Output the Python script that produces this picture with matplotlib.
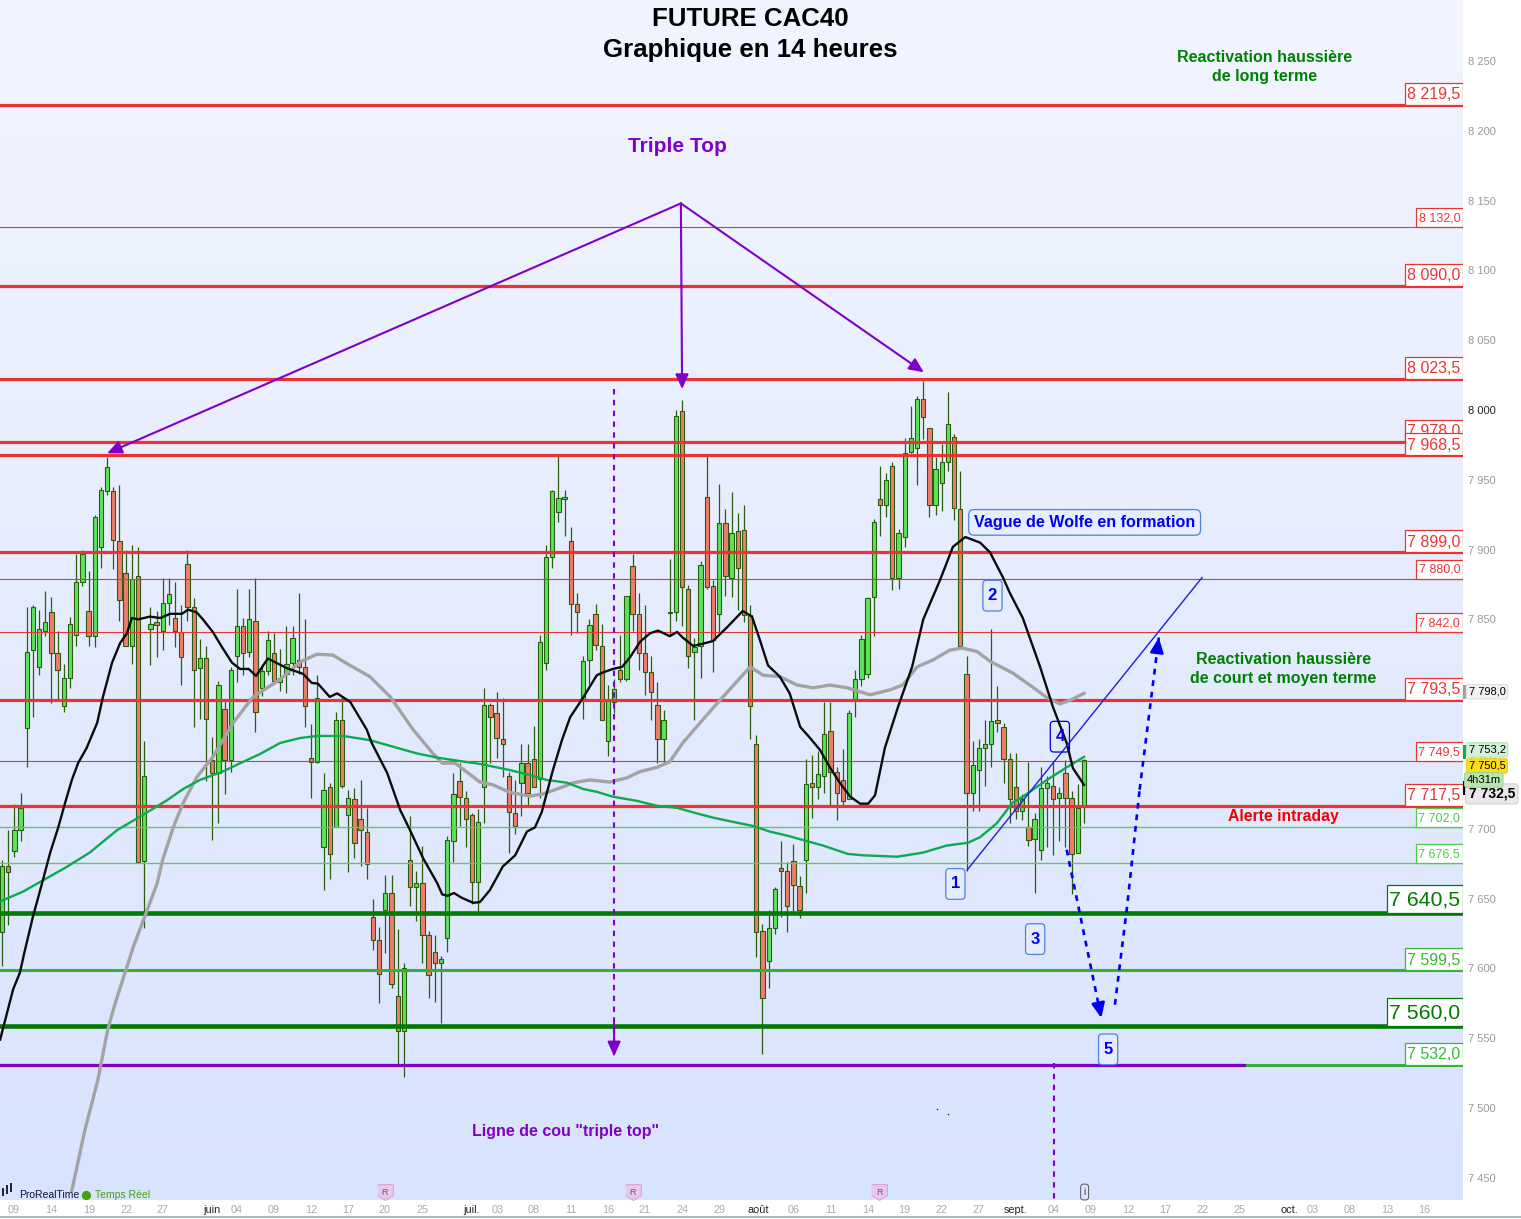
import numpy as np
import matplotlib
matplotlib.use('Agg')
import matplotlib.pyplot as plt
from matplotlib.patches import Rectangle, FancyBboxPatch

plt.rcParams['font.family'] = ['Liberation Sans', 'DejaVu Sans']

# candles, one value per bar
opens = [7627,7674,7685,7700,7773,7829,7817,7843,7856,7827,
         7789,7809,7840,7878,7857,7839,7903,7943,7943,7907,
         7884,7832,7882,7678,7844,7849,7843,7863,7852,7842,
         7891,7860,7816,7823,7750,7741,7787,7750,7825,7846,
         7828,7850,7802,7814,7827,7806,7812,7820,7822,7817,
         7752,7749,7688,7731,7702,7779,7711,7722,7708,7699,
         7638,7621,7643,7655,7581,7556,7679,7659,7662,7625,
         7613,7605,7623,7692,7735,7723,7711,7663,7731,7790,
         7784,7765,7739,7712,7734,7748,7751,7737,7820,7896,
         7928,7937.5,7907,7862,7794,7822,7855,7832,7764,7792,
         7815,7808,7889,7855,7827,7813,7790,7765,7855.5,7856,
         8000,7873,7828,7832,7939,7875,7855,7920,7881,7914,
         7915,7854,7762,7628,7606,7630,7673,7671,7678,7660,
         7679,7734,7731,7739,7771,7742,7736,7722,7794,7808,
         7812,7867,7937,7933,7961,7881,7910,7971,7974,8009,
         7988,7933,7949,7964,7982,7930,7812,7727,7743,7759,
         7762,7779,7774,7751,7731,7714,7702,7694,7686,7730,
         7732,7723,7741,7723,7684,7717]
highs = [7679,7700,7719,7727,7860,7861,7858,7871,7867,7843,
         7819,7853,7898,7901,7886,7926,7946,7967,7946,7947,
         7901,7904,7903,7764,7860,7857,7881,7881,7878,7861,
         7901,7866,7837,7832,7767,7807,7793,7817,7873,7852,
         7873,7881,7819,7843,7841,7830,7846,7846,7870,7851,
         7776,7811,7741,7734,7785,7796,7729,7730,7736,7716,
         7651,7631,7668,7668,7629,7605,7710,7671,7689,7628,
         7625,7610,7696,7741,7748,7728,7712,7715,7802,7791,
         7799,7795,7742,7736,7762,7762,7775,7840,7904,7944,
         7968,7944,7917,7870,7825,7851,7862,7848,7804,7808,
         7840,7868,7898,7870,7861,7825,7806,7786,7894,8001,
         8008,7876,7838,7893,7968,7879,7948,7930,7942,7927,
         7933,7861,7768,7633,7643,7659,7692,7677,7690,7667,
         7751,7754,7757,7792,7792,7745,7758,7786,7815,7840,
         7867,7923,7961,7956,7964,7916,7981,8004,8011,8022,
         7988,7967,7977,8014,7984,7957,7825,7764,7765,7779,
         7844,7803,7777,7755,7755,7726,7749,7712,7745,7739,
         7749,7731,7750,7728,7733,7751]
lows = [7603,7632,7681,7692,7745,7781,7811,7839,7791,7794,
        7785,7802,7832,7875,7832,7831,7888,7940,7887,7850,
        7832,7819,7677,7630,7818,7824,7829,7847,7831,7804,
        7850,7774,7780,7735,7693,7705,7726,7742,7806,7811,
        7824,7770,7796,7811,7805,7800,7798,7811,7812,7774,
        7723,7748,7657,7665,7702,7730,7670,7680,7674,7665,
        7614,7576,7612,7587,7531,7523,7646,7635,7605,7580,
        7577,7562,7613,7677,7703,7688,7647,7642,7705,7748,
        7752,7738,7684,7697,7710,7718,7731,7723,7815,7888,
        7921,7911,7840,7841,7780,7805,7829,7779,7753,7784,
        7806,7807,7843,7815,7797,7779,7748,7748,7839,7850,
        7846,7816,7779,7809,7873,7813,7841,7868,7867,7858,
        7849,7765,7609,7540,7587,7626,7638,7627,7642,7637,
        7655,7709,7722,7727,7718,7707,7718,7722,7781,7803,
        7809,7839,7911,7924,7872,7873,7903,7970,7947,7980,
        7924,7926,7929,7957,7922,7831,7671,7714,7714,7732,
        7745,7770,7734,7705,7708,7707,7689,7655,7679,7688,
        7682,7692,7688,7654,7684,7705]
closes = [7674,7670,7700,7716,7828,7860,7844,7849,7827,7815,
          7809,7848,7878,7898,7839,7924,7944,7960,7908,7865,
          7832,7880,7677,7739,7848,7847,7863,7869,7843,7824,
          7860,7815,7823,7780,7741,7804,7750,7815,7846,7827,
          7851,7785,7814,7836,7807,7809,7819,7838,7817,7789,
          7749,7795,7729,7683,7779,7732,7723,7691,7700,7676,
          7621,7597,7655,7590,7556,7601,7659,7662,7625,7596,
          7605,7608,7693,7726,7724,7708,7663,7706,7790,7781,
          7766,7762,7713,7703,7748,7727,7731,7835,7896,7943,
          7938,7938.5,7862,7856,7821,7847,7833,7779,7793,7801,
          7808,7868,7855,7827,7813,7799,7765,7779,7856.5,7997,
          7874,7825,7831,7890,7874,7836,7920,7882,7913,7888,
          7854,7789,7627,7580,7630,7658,7671,7646,7661,7643,
          7733,7731,7740,7769,7742,7727,7721,7784,7808,7837,
          7866,7921,7933,7951,7881,7913,7970,7981,8009,7996,
          7933,7959,7964,7991,7931,7832,7727,7747,7759,7762,
          7778,7777,7751,7722,7714,7722,7693,7708,7730,7734,
          7722,7727,7723,7683,7716,7750]

# moving averages, read at their vertices (bar number, price)
black_x = [-0.3,1.8,2.9,3.6,5.0,6.6,7.8,9.1,10.2,11.3,12.3,13.7,15.4,16.3,17.8,19.1,20.2,21.0,22.0,23.9,
           25.6,27.2,29.1,30.1,31.5,32.5,34.1,35.6,37.2,38.5,39.9,41.1,43.0,46.1,48.7,50.1,51.1,53.0,54.2,56.3,
           59.0,59.8,62.3,64.4,66.0,68.1,70.4,71.2,72.1,73.1,74.4,76.2,77.3,78.9,81.0,83.0,84.9,86.2,87.3,89.1,
           90.6,91.9,94.0,96.2,97.2,98.8,100.3,101.6,103.2,104.8,106.1,108.0,109.2,110.1,111.8,113.7,115.0,117.3,119.8,121.3,
           122.6,123.9,125.8,127.4,129.1,130.7,132.3,133.9,135.5,137.2,138.8,140.1,141.2,142.8,144.9,147.2,149.0,151.7,153.8,155.8,
           158.2,159.8,161.9,163.0,165.1,167.9,170.0,172.2,173.2,175.0]
black_y = [7549,7585,7597,7611,7637,7663,7683,7701,7718.5,7735,7747,7758,7776,7794,7819,7833,7840,7851,7850,7852,
           7851,7854,7854,7857,7855,7850,7841,7830,7819,7814.5,7814.5,7809.5,7822,7815,7811,7804.5,7804,7794.5,7797,7791,
           7771,7761.5,7740,7713.5,7699,7679,7661,7653,7652,7654,7650.5,7647,7647.5,7656,7673,7681,7698,7701,7712,7742,
           7764,7780,7794,7810,7812,7814.5,7816,7823,7834,7840,7842,7838,7841,7837,7831,7833,7834.5,7844.5,7856,7852,
           7835,7817,7809,7797,7773,7765,7756.5,7744,7733,7723,7718,7718,7724,7758,7787,7816,7850,7878,7902,7909,
           7905,7898,7880,7869,7851,7816,7787,7761.5,7743.5,7731.5]
gray_x = [11.3,13.4,15.5,17.1,18.3,20.2,21.2,23.5,25.1,26.0,27.7,29.3,31.5,34.1,37.4,40.6,45.0,48.2,50.9,53.5,
          56.3,59.5,62.8,66.5,69.7,71.2,73.3,77.3,79.4,82.2,85.4,87.5,90.7,92.4,95.1,98.3,101.1,103.2,105.9,108.0,
          110.1,114.0,116.6,121.0,123.1,125.8,128.6,131.2,133.9,136.7,140.4,143.6,145.7,148.0,150.6,153.3,155.3,157.7,159.8,163.5,
          166.7,169.0,171.1,172.7,175.0]
gray_y = [7441,7484,7520,7556,7575,7601,7615,7642,7661,7678,7701,7718.5,7737,7751.5,7776,7794.5,7807,7819.5,7825,7824.5,
          7817,7809,7794.5,7771,7754,7747,7747,7733.5,7731.5,7726,7723.5,7725,7730,7733,7735,7733.5,7736.5,7741,7744,7748,
          7761.5,7781.5,7794.5,7816,7810,7809,7803,7801,7803,7801,7796,7799.5,7803,7816,7821,7828,7829.5,7827,7820,7811.5,
          7801.5,7794,7789.5,7792,7797]
green_x = [-0.3,3.4,6.6,10.2,14.2,18.6,22.8,26.7,29.3,32.0,35.7,39.0,41.7,45.0,48.2,50.9,55.2,59.5,63.9,67.1,
           70.4,74.1,77.3,82.2,85.4,88.1,91.4,94.0,96.2,98.8,102.7,105.9,109.2,112.4,115.0,118.2,121.5,124.2,127.1,129.5,
           132.8,136.8,139.3,144.8,149.0,152.8,156.2,158.2,160.9,163.5,165.1,169.0,172.2,175.0]
green_y = [7648,7655,7663,7672,7683,7699,7710,7720.5,7728.5,7735,7741,7748,7753.5,7761.5,7765,7766.5,7766.5,7763.5,7758,7754,
           7751,7748.5,7746.5,7742,7738.5,7735,7733,7728.5,7726.5,7723,7720,7716.5,7715,7711,7708,7705,7702,7698,7695,7692,
           7688,7682,7681,7680,7683,7688,7690,7694,7704,7719,7723,7735,7744,7751.5]

# horizontal levels
thick_red = [8219.5, 8090.0, 8023.5, 7978.0, 7968.5, 7899.0, 7793.5, 7717.5]
thin_red = [8132.0, 7880.0, 7842.0, 7749.5]
thin_green = [7702.0, 7676.5]
thick_dark_green = [7640.5, 7560.0]
mid_green = [7599.5, 7532.0]
neckline = 7532.0

# price tags on the right edge
mid_red_tags = ['8 219,5', '8 090,0', '8 023,5', '7 978,0', '7 968,5', '7 899,0', '7 793,5', '7 717,5']
mid_red_vals = [8219.5, 8090.0, 8023.5, 7978.0, 7968.5, 7899.0, 7793.5, 7717.5]
small_red_tags = ['8 132,0', '7 880,0', '7 842,0', '7 749,5']
small_red_vals = [8132.0, 7880.0, 7842.0, 7749.5]
small_green_tags = ['7 702,0', '7 676,5']
small_green_vals = [7702.0, 7676.5]
mid_green_tags = ['7 599,5', '7 532,0']
mid_green_vals = [7599.5, 7532.0]
big_green_tags = ['7 640,5', '7 560,0']
big_green_vals = [7640.5, 7560.0]

# axis ticks
price_ticks = [8250, 8200, 8150, 8100, 8050, 8000, 7950, 7900, 7850, 7800, 7750, 7700, 7650, 7600, 7550, 7500, 7450]
date_pos = [1.9,7.9,14.1,20.1,26.0,34.0,38.0,44.0,50.0,56.0,61.9,68.1,76.0,80.1,86.0,92.0,98.0,104.0,110.0,116.0,
            122.3,128.1,134.1,140.1,146.0,152.0,158.0,164.0,170.1,176.1,182.1,188.1,194.1,200.1,208.2,212.0,218.0,224.0,230.0]
date_labels = ['09','14','19','22','27','juin','04','09','12','17','20','25','juil.','03','08','11','16','21','24','29',
               'août','06','11','14','19','22','27','sept.','04','09','12','17','22','25','oct.','03','08','13','16']
month_labels = ['juin', 'juil.', 'août', 'sept.', 'oct.']

# drawing annotations (bar number, price)
top_apex = (109.8, 8148)
top_targets = [(17.0, 7969), (110.0, 8015), (149.1, 8027)]
wolfe_line_x = [156.1, 194.1]
wolfe_line_y = [7670.5, 7880]
wave_down = ((172.2, 7685), (177.8, 7564.5))
wave_up_x = [180.0, 182.0, 184.0]
wave_up_y = [7574, 7645.4, 7728]
wave_up_end = (187.1, 7837)
neck_drop = ((99.0, 8015), (99.0, 7537))
neck_below = ([170.2, 170.2], [7532, 7434.5])
wolfe_numbers = ['1', '2', '3', '4', '5']
wolfe_num_x = [154.2, 160.2, 167.1, 171.1, 178.9]
wolfe_num_y = [7660.5, 7867, 7621, 7766, 7542]
r_pos = [61.9, 102.0, 141.9]
stray_x = [151.2, 153.0]
stray_y = [7499, 7495.5]

RED = '#ea3434'
PURPLE = '#8000c8'
BLUE = '#0000f0'
DARK = '#007a00'
MID = '#38ad38'
LIGHT = '#62c862'
X0, X1 = -0.323, 236.3
Y0, Y1 = 7434.1, 8293.7
# levels and candles sit a point under the price scale in the reference
SHIFT = -1.0

fig = plt.figure(figsize=(15.21, 12.19), dpi=100, facecolor='white')
ax = fig.add_axes([0, 19 / 1219, 1463 / 1521, 1200 / 1219])

# background gradient
grad = np.linspace(0, 1, 256).reshape(-1, 1)
top_col = np.array([0xf2, 0xf5, 0xff]) / 255
bot_col = np.array([0xd8, 0xe3, 0xfd]) / 255
img = top_col + (bot_col - top_col) * grad[:, :, None]
ax.imshow(img, extent=[X0, X1, Y0, Y1], aspect='auto', origin='upper', zorder=0)

# candles
x = np.arange(len(opens))
o = np.array(opens) + SHIFT
c = np.array(closes) + SHIFT
up = c >= o
ax.vlines(x, np.array(lows) + SHIFT, np.array(highs) + SHIFT, color='#2c5c10', lw=0.9, zorder=2)
ax.bar(x[up], np.maximum(c - o, 0.6)[up], bottom=o[up], width=0.7, color='#5ae45a', edgecolor='#2c5c10', lw=0.8, zorder=3)
ax.bar(x[~up], np.maximum(o - c, 0.6)[~up], bottom=c[~up], width=0.7, color='#f27c6c', edgecolor='#2c5c10', lw=0.8, zorder=3)

# levels
for v in thin_red:
    ax.axhline(v + SHIFT, color=RED, lw=0.8, zorder=4)
for v in thin_green:
    ax.axhline(v + SHIFT, color=LIGHT, lw=1.0, zorder=4)
for v in thick_red:
    ax.axhline(v + SHIFT, color=RED, lw=2.3, zorder=4)
for v in mid_green:
    ax.axhline(v + SHIFT, color=MID, lw=2.2, zorder=4)
for v in thick_dark_green:
    ax.axhline(v + SHIFT, color=DARK, lw=3.3, zorder=4)
ax.plot([X0, 200.8], [neckline + SHIFT, neckline + SHIFT], color=PURPLE, lw=2.3, zorder=4)

# moving averages
ax.plot(gray_x, gray_y, color='#a3a3a3', lw=2.4, zorder=5)
ax.plot(green_x, green_y, color='#10a850', lw=1.7, zorder=5)
ax.plot(black_x, black_y, color='#0c0c0c', lw=1.7, zorder=6)


def head(start, end, color, lw):
    ax.annotate('', xy=end, xytext=start, zorder=8,
                arrowprops=dict(arrowstyle='-|>,head_width=0.36,head_length=0.8', mutation_scale=11, color=color,
                                lw=lw, shrinkA=0, shrinkB=0))


def dashed_arrow(start, end, color, lw, dashes):
    ax.plot([start[0], end[0]], [start[1], end[1]], color=color, lw=lw, ls=(0, dashes), zorder=8)
    near = (end[0] - (end[0] - start[0]) * 0.05, end[1] - (end[1] - start[1]) * 0.05)
    head(near, end, color, lw)


# triple top drawing
for t in top_targets:
    head(top_apex, t, PURPLE, 1.5)
dashed_arrow(neck_drop[0], neck_drop[1], PURPLE, 1.5, (2.6, 2.6))
ax.plot(neck_below[0], neck_below[1], color=PURPLE, lw=1.5, ls=(0, (2.6, 2.6)), zorder=8)

# wolfe wave drawing
ax.plot(wolfe_line_x, wolfe_line_y, color='#1c1ce8', lw=1.0, zorder=8)
dashed_arrow(wave_down[0], wave_down[1], BLUE, 1.9, (2.2, 2.2))
ax.plot(wave_up_x, wave_up_y, color=BLUE, lw=1.9, ls=(0, (2.2, 2.2)), zorder=8)
dashed_arrow((wave_up_x[-1], wave_up_y[-1]), wave_up_end, BLUE, 1.9, (2.2, 2.2))

for n, nx, ny in zip(wolfe_numbers, wolfe_num_x, wolfe_num_y):
    edge = '#0000d0' if n == '4' else '#5080e0'
    box = FancyBboxPatch((nx - 1.55, ny - 11), 3.1, 22, boxstyle='round,pad=0,rounding_size=0.6',
                         mutation_aspect=4.4, fc='#e4ecfd' if n != '4' else 'none', ec=edge, lw=0.9, zorder=9)
    ax.add_patch(box)
    ax.text(nx, ny, n, color=BLUE, fontsize=12, fontweight='bold', ha='center', va='center', zorder=10)

# price tags, each one drawn over the one before it
tag_z = [11]


def tag(val, txt, color, w, h, size):
    val = val + SHIFT
    ax.add_patch(Rectangle((X1 - w, val), w, h, fc='white', ec=color, lw=0.9, zorder=tag_z[0]))
    ax.text(X1 - 0.45, val + h * 0.47, txt, color=color, fontsize=size, ha='right', va='center', zorder=tag_z[0] + 0.5)
    tag_z[0] += 1


for v, t in zip(small_red_vals, small_red_tags):
    tag(v, t, RED, 7.6, 13.6, 9.0)
for v, t in zip(small_green_vals, small_green_tags):
    tag(v, t, '#4ccc4c', 7.6, 13.6, 9.0)
for v, t in zip(mid_red_vals, mid_red_tags):
    tag(v, t, RED, 9.4, 15.8, 11.5)
for v, t in zip(mid_green_vals, mid_green_tags):
    tag(v, t, '#38b838', 9.4, 15.8, 11.5)
for v, t in zip(big_green_vals, big_green_tags):
    tag(v, t, DARK, 12.3, 20, 15.3)

# titles and comments
ax.text(121.0, 8280, 'FUTURE CAC40', fontsize=18.6, fontweight='bold', ha='center', va='center', zorder=40)
ax.text(121.0, 8258, 'Graphique en 14 heures', fontsize=18.6, fontweight='bold', ha='center', va='center', zorder=40)
ax.text(109.2, 8189, 'Triple Top', color=PURPLE, fontsize=15, fontweight='bold', ha='center', va='center', zorder=40)
ax.text(204.2, 8245.5, 'Reactivation haussière\nde long terme', color='#008000', fontsize=11.5, fontweight='bold',
        ha='center', va='center', linespacing=1.3, zorder=40)
ax.text(207.2, 7814.3, 'Reactivation haussière\nde court et moyen terme', color='#008000', fontsize=11.5, fontweight='bold',
        ha='center', va='center', linespacing=1.3, zorder=40)
ax.text(207.2, 7708.5, 'Alerte intraday', color='#f00000', fontsize=11.3, fontweight='bold', ha='center', va='center', zorder=40)
ax.text(91.1, 7483.5, 'Ligne de cou "triple top"', color=PURPLE, fontsize=11.5, fontweight='bold', ha='center', va='center', zorder=40)
ax.text(175.1, 7919.5, 'Vague de Wolfe en formation', color=BLUE, fontsize=11.6, fontweight='bold', ha='center', va='center', zorder=40,
        bbox=dict(boxstyle='round,pad=0.33', fc='#e6edfd', ec='#5080e0', lw=0.9))

# live values next to the price scale
for val, col in [(7798.0, '#a0a0a0'), (7755.0, '#10a850'), (7729.0, '#000000')]:
    ax.add_patch(Rectangle((X1, val - 5), 0.5, 10, fc=col, ec='none', clip_on=False, zorder=40))
ax.text(X1 + 0.9, 7798.2, '7 798,0', fontsize=8, va='center', clip_on=False, zorder=41,
        bbox=dict(boxstyle='round,pad=0.2', fc='#f2f2f2', ec='#dddddd', lw=0.7))
ax.text(X1 + 0.9, 7756.5, '7 753,2', fontsize=8, va='center', clip_on=False, zorder=41,
        bbox=dict(boxstyle='round,pad=0.2', fc='#d4f0d8', ec='#b0e0b8', lw=0.7))
ax.text(X1 + 0.9, 7745, '7 750,5', fontsize=8, va='center', clip_on=False, zorder=42,
        bbox=dict(boxstyle='round,pad=0.2', fc='#ffdc14', ec='#e8c820', lw=0.7))
ax.text(X1 + 0.6, 7735, '4h31m', fontsize=8, va='center', clip_on=False, zorder=42,
        bbox=dict(boxstyle='round,pad=0.2', fc='#b8e6b0', ec='#a0d098', lw=0.7))
ax.text(X1 + 0.9, 7725, '7 732,5', fontsize=10, fontweight='bold', va='center', clip_on=False, zorder=41,
        bbox=dict(boxstyle='round,pad=0.22', fc='#e8e8e8', ec='#cccccc', lw=0.7))

# footer marks
for rx in r_pos:
    ax.scatter([rx], [7439.5], s=130, marker=[(-1, 1), (1, 1), (1, -0.4), (0, -1), (-1, -0.4)],
               fc='#e8c8e8', ec='#d8a8d8', lw=0.8, zorder=12)
    ax.text(rx, 7439.8, 'R', color='#8a4a8a', fontsize=6.5, ha='center', va='center', zorder=13)
ax.text(175.1, 7439.8, 'i', color='#333333', fontsize=7, ha='center', va='center', zorder=13,
        bbox=dict(boxstyle='round,pad=0.3', fc='#dde6fb', ec='#555555', lw=0.7))
ax.vlines([0.1, 0.75, 1.5], [7437, 7438.5, 7440], [7443, 7444.5, 7446], color='#101030', lw=1.3, zorder=13)
ax.text(2.75, 7437.5, 'ProRealTime', color='#101040', fontsize=7.5, va='center', zorder=13)
ax.scatter([13.6], [7437.5], s=32, color='#48a010', zorder=13)
ax.text(15.0, 7437.5, 'Temps Réel', color='#48a010', fontsize=7.5, va='center', zorder=13)
ax.scatter(stray_x, stray_y, s=1.2, color='#222222', lw=0, zorder=8)

# axes
ax.set_xlim(X0, X1)
ax.set_ylim(Y0, Y1)
ax.yaxis.tick_right()
ax.set_yticks(price_ticks)
ax.set_yticklabels([f'{v:,}'.replace(',', ' ') for v in price_ticks], fontsize=8, color='#999999')
ax.get_yticklabels()[5].set_color('#222222')
ax.set_xticks(date_pos)
ax.set_xticklabels(date_labels, fontsize=7.8, color='#aaaaaa')
for lab in ax.get_xticklabels():
    if lab.get_text() in month_labels:
        lab.set_color('#222222')
ax.tick_params(axis='both', length=0)
ax.tick_params(axis='x', pad=3.5)
ax.tick_params(axis='y', pad=3.5)
for s in ax.spines.values():
    s.set_visible(False)

fig.add_artist(plt.Line2D([0, 1], [2 / 1219, 2 / 1219], color='#8ab4c0', lw=1.2))

plt.savefig('out.png', dpi=100)
